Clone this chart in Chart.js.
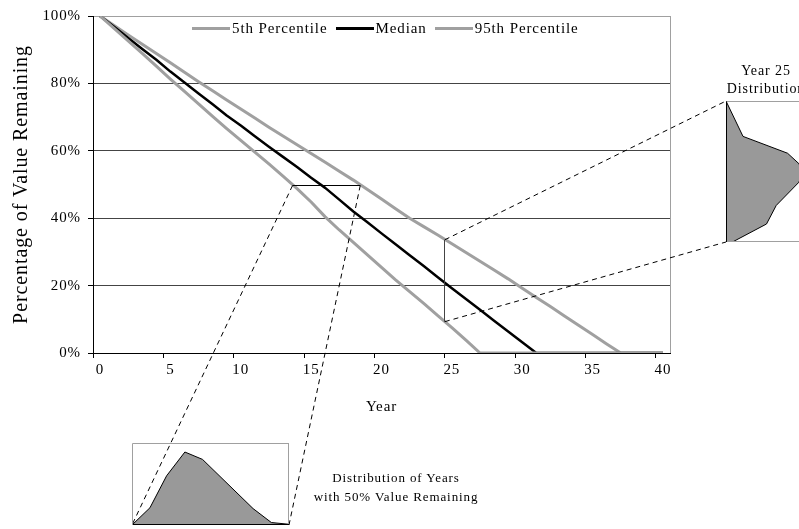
<!DOCTYPE html>
<html>
<head>
<meta charset="utf-8">
<script src="https://cdn.jsdelivr.net/npm/chart.js@4.4.1/dist/chart.umd.min.js"></script>
<style>
  html, body { margin: 0; padding: 0; background: #fff; }
  body { width: 799px; height: 529px; overflow: hidden; }
  #wrap { position: relative; width: 799px; height: 529px; }
  canvas { position: absolute; }
  .note { position: absolute; font-family: 'Liberation Serif', 'Times New Roman', serif; color: #000;
          text-align: center; white-space: nowrap; letter-spacing: 0.9px; }
  #legend { position: absolute; left: 192px; top: 20px; display: flex; align-items: center;
            font-family: 'Liberation Serif', 'Times New Roman', serif; font-size: 15px; color: #000;
            letter-spacing: 0.9px; white-space: nowrap; }
  #legend .item { display: flex; align-items: center; margin-right: 8px; }
  #legend .swatch { display: inline-block; width: 38px; margin-right: 2px; }
</style>
</head>
<body>
<div id="wrap">
  <canvas id="main" width="799" height="529" style="left:0;top:0"></canvas>
  <canvas id="halfInset" width="159" height="84" style="left:131px;top:442px"></canvas>
  <canvas id="crossInset" width="83" height="143" style="left:725px;top:100px"></canvas>
  <div id="legend"></div>
  <div class="note" style="left:296px;top:468px;width:200px;font-size:13px;line-height:19px">Distribution of Years<br>with 50% Value Remaining</div>
  <div class="note" style="left:721px;top:62px;width:90px;font-size:14px;line-height:18px">Year 25<br>Distribution</div>
</div>
<script>
// ---- categories and tick labels ----
const yearLabels = ['0','1','2','3','4','5','6','7','8','9','10','11','12','13','14','15','16','17','18','19','20',
                    '21','22','23','24','25','26','27','28','29','30','31','32','33','34','35','36','37','38','39','40'];
const labeledYears = [0, 5, 10, 15, 20, 25, 30, 35, 40];
const valueTicks = [0, 20, 40, 60, 80, 100];

// ---- percentage of value remaining, by year ----
const pct5 = [100, 96.3, 92.6, 88.9, 85.1, 81.3, 77.6, 73.9, 70.2, 66.6, 63.1, 59.6, 56.1, 52.5, 48.8, 44.8,
              40.4, 36.5, 32.8, 29.1, 25.4, 21.7, 18.2, 14.7, 11.1, 7.5, 3.8, 0, 0, 0, 0, 0, 0, 0, 0, 0, 0, 0, 0, 0, 0];
const median = [100, 96.8, 93.5, 90.2, 87.0, 83.5, 80.3, 77.0, 73.8, 70.5, 67.5, 64.3, 61.2, 58.2, 55.2, 52.0,
                49.0, 45.5, 42.0, 38.8, 35.5, 32.3, 29.0, 25.8, 22.5, 19.2, 16.0, 12.8, 9.6, 6.4, 3.2, 0, 0, 0, 0, 0, 0, 0, 0, 0, 0];
const pct95 = [100, 97.2, 94.4, 91.6, 88.9, 86.1, 83.3, 80.5, 77.8, 75.1, 72.4, 69.7, 67.0, 64.4, 61.8, 59.2,
               56.6, 53.9, 51.3, 48.5, 45.7, 42.8, 40.0, 37.5, 35.0, 32.4, 29.8, 27.2, 24.6, 22.0, 19.2, 16.5, 13.8,
               11.0, 8.2, 5.5, 2.7, 0, 0, 0, 0];

// ---- span of years at which 50% of value remains (5th to 95th percentile) ----
const halfLevel = 49.7;
const halfSpan = [13.68, 18.49];
const halfYears = [13.68, 14.23, 14.74, 15.30, 15.84, 17.39, 17.95, 18.46, 18.49];
const halfDensity = [0, 21, 60, 89, 80, 20, 3, 1, 0];

// ---- spread of value remaining at year 25 ----
const crossYear = 25;
const crossSpan = [9.3, 33.6];
const crossValues = [33.6, 27.5, 24.6, 22.8, 21.4, 19.6, 15.6, 12.4, 9.3, 9.3];
const crossDensity = [0, 21, 76, 90, 95, 90, 62, 50, 8, 0];

const serif = "'Liberation Serif', 'Times New Roman', serif";
Chart.defaults.font.family = serif;
Chart.defaults.color = '#000';

// outline of an inset: each side gets its own colour
const insetFrame = {
  id: 'insetFrame',
  afterDatasetsDraw(chart, args, opts) {
    const {ctx, chartArea: a} = chart;
    const L = Math.round(a.left) + 0.5, R = Math.round(a.right) - 0.5;
    const T = Math.round(a.top) + 0.5, B = Math.round(a.bottom) - 0.5;
    const side = (color, x1, y1, x2, y2) => {
      if (!color) return;
      ctx.strokeStyle = color;
      ctx.beginPath(); ctx.moveTo(x1, y1); ctx.lineTo(x2, y2); ctx.stroke();
    };
    ctx.save();
    ctx.lineWidth = 1;
    side(opts.top, L, T, R + 0.5, T);
    side(opts.right, R, T, R, B);
    side(opts.bottom, L, B, R + 0.5, B);
    side(opts.left, L, T, L, B + 0.5);
    ctx.restore();
  }
};

function insetOptions(xRange, yRange, frame) {
  return {
    responsive: false, animation: false, events: [],
    layout: { padding: 1 },
    plugins: { legend: { display: false }, tooltip: { enabled: false }, insetFrame: frame },
    scales: {
      x: { type: 'linear', display: false, min: xRange[0], max: xRange[1] },
      y: { type: 'linear', display: false, min: yRange[0], max: yRange[1] }
    }
  };
}

const densityStyle = { showLine: true, fill: 'shape', backgroundColor: '#999999', borderColor: '#000',
                       borderWidth: 1, pointRadius: 0, tension: 0 };

// distribution of the year at which half the value is gone
const halfInset = new Chart(document.getElementById('halfInset'), {
  type: 'scatter',
  data: { datasets: [Object.assign({ data: halfYears.map((t, i) => ({ x: t, y: halfDensity[i] })) }, densityStyle)] },
  options: insetOptions(halfSpan, [0, 100], { top: '#a0a0a0', right: '#a0a0a0', left: '#a0a0a0', bottom: '#000' }),
  plugins: [insetFrame]
});

// distribution of value remaining at year 25, drawn sideways
const crossInset = new Chart(document.getElementById('crossInset'), {
  type: 'scatter',
  data: { datasets: [Object.assign({ data: crossValues.map((v, i) => ({ x: crossDensity[i], y: v })) }, densityStyle)] },
  options: insetOptions([0, 100], crossSpan, { top: '#a0a0a0', bottom: '#a0a0a0', left: '#000' }),
  plugins: [insetFrame]
});

const crisp = v => Math.round(v - 0.5) + 0.5;

function insetCorner(chart, h, v) {
  const c = chart.canvas, a = chart.chartArea;
  return { x: c.offsetLeft + (h === 'left' ? a.left : a.right), y: c.offsetTop + (v === 'top' ? a.top : a.bottom) };
}

const guides = {
  id: 'guides',
  afterInit(chart) { chart.ctx.letterSpacing = '0.9px'; },
  beforeUpdate(chart) { chart.ctx.letterSpacing = '0.9px'; },
  beforeDraw(chart) { chart.ctx.letterSpacing = '0.9px'; },
  beforeDatasetsDraw(chart) {
    const {ctx, chartArea: a} = chart;
    ctx.save();
    ctx.strokeStyle = '#a0a0a0'; ctx.lineWidth = 1;
    ctx.beginPath(); ctx.moveTo(crisp(a.right), a.top); ctx.lineTo(crisp(a.right), a.bottom); ctx.stroke();
    ctx.restore();
  },
  afterDatasetsDraw(chart) {
    const {ctx, scales: {x, y}} = chart;
    ctx.save();
    ctx.lineWidth = 1;
    ctx.strokeStyle = '#000';
    const hy = crisp(y.getPixelForValue(halfLevel));
    ctx.beginPath();
    ctx.moveTo(x.getPixelForValue(halfSpan[0]), hy);
    ctx.lineTo(x.getPixelForValue(halfSpan[1]), hy);
    ctx.stroke();
    // year 25 sits on its tick mark, half a category left of the point
    const cx = crisp(x.getPixelForValue(crossYear - 0.5));
    ctx.strokeStyle = '#444';
    ctx.beginPath();
    ctx.moveTo(cx, y.getPixelForValue(crossSpan[0]));
    ctx.lineTo(cx, y.getPixelForValue(crossSpan[1]));
    ctx.stroke();
    ctx.restore();
  },
  afterDraw(chart) {
    const {ctx, scales: {x, y}} = chart;
    const hy = y.getPixelForValue(halfLevel);
    const cx = x.getPixelForValue(crossYear - 0.5);
    const leaders = [
      [{ x: x.getPixelForValue(halfSpan[0]), y: hy }, insetCorner(halfInset, 'left', 'bottom')],
      [{ x: x.getPixelForValue(halfSpan[1]), y: hy }, insetCorner(halfInset, 'right', 'bottom')],
      [{ x: cx, y: y.getPixelForValue(crossSpan[1]) }, insetCorner(crossInset, 'left', 'top')],
      [{ x: cx, y: y.getPixelForValue(crossSpan[0]) }, insetCorner(crossInset, 'left', 'bottom')]
    ];
    ctx.save();
    ctx.strokeStyle = '#000'; ctx.lineWidth = 1; ctx.setLineDash([5, 4]);
    leaders.forEach(([p, q]) => { ctx.beginPath(); ctx.moveTo(p.x, p.y); ctx.lineTo(q.x, q.y); ctx.stroke(); });
    ctx.restore();
  }
};

const mainChart = new Chart(document.getElementById('main'), {
  type: 'line',
  data: {
    labels: yearLabels,
    datasets: [
      { label: '5th Percentile', data: pct5, borderColor: '#a0a0a0', borderWidth: 3 },
      { label: 'Median', data: median, borderColor: '#000', borderWidth: 2.5 },
      { label: '95th Percentile', data: pct95, borderColor: '#a0a0a0', borderWidth: 3 }
    ]
  },
  options: {
    responsive: false, animation: false, events: [],
    elements: { point: { radius: 0 }, line: { tension: 0, fill: false, borderJoinStyle: 'round' } },
    layout: { padding: { top: 12, right: 129, left: 0, bottom: 0 } },
    plugins: { legend: { display: false }, tooltip: { enabled: false } },
    scales: {
      x: {
        type: 'category',
        offset: true,
        grid: {
          offset: true, drawOnChartArea: false, tickLength: 5, lineWidth: 1,
          tickColor: c => (c.index !== undefined && labeledYears.includes(c.index)) ? '#000' : 'rgba(0,0,0,0)'
        },
        border: { color: '#000', width: 1 },
        ticks: {
          autoSkip: false, maxRotation: 0, minRotation: 0, padding: 3,
          font: { size: 15 }, color: '#000',
          callback: (v, i) => labeledYears.includes(i) ? yearLabels[i] : ''
        },
        title: { display: true, text: 'Year', font: { size: 15 }, color: '#000', padding: { top: 0, bottom: 113 } },
        afterFit: s => { s.height = 176; }
      },
      y: {
        min: 0, max: 100,
        afterBuildTicks: s => { s.ticks = valueTicks.map(v => ({ value: v })); },
        grid: {
          color: c => (c.tick && c.tick.value === 100) ? '#a0a0a0' : '#444',
          tickColor: '#000', tickLength: 5, lineWidth: 1
        },
        border: { color: '#000', width: 1 },
        ticks: { padding: 7, font: { size: 15 }, color: '#000', callback: v => v + '%' },
        title: { display: true, text: 'Percentage of Value Remaining', font: { size: 20 }, color: '#000', padding: { top: 10, bottom: 0 } },
        afterFit: s => { s.width = 93; }
      }
    }
  },
  plugins: [guides]
});

// legend built from the chart's own datasets
const legendBox = document.getElementById('legend');
mainChart.data.datasets.forEach(ds => {
  const item = document.createElement('span');
  item.className = 'item';
  const sw = document.createElement('span');
  sw.className = 'swatch';
  sw.style.height = ds.borderWidth + 'px';
  sw.style.background = ds.borderColor;
  item.appendChild(sw);
  item.appendChild(document.createTextNode(ds.label));
  legendBox.appendChild(item);
});
</script>
</body>
</html>
